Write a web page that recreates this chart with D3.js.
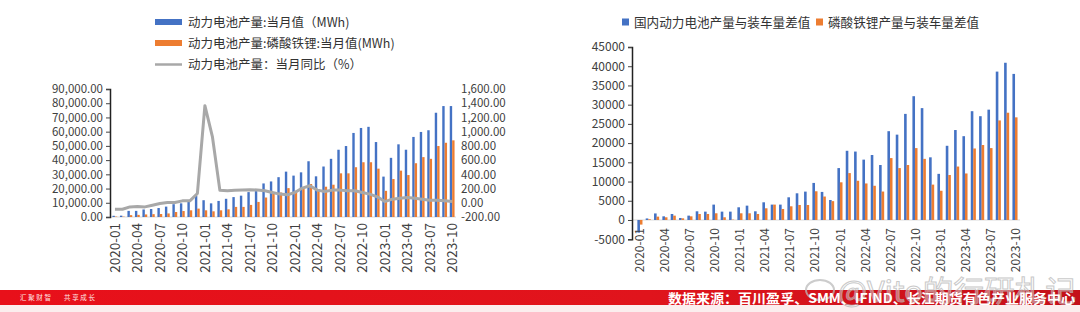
<!DOCTYPE html>
<html>
<head>
<meta charset="utf-8">
<script src="https://cdn.jsdelivr.net/npm/d3@7"></script>
<style>
body { margin: 0; background: #fff; }
svg { display: block; }
text { font-family: "Noto Sans CJK SC", "Noto Sans", sans-serif; }
</style>
</head>
<body>
<svg id="chart" width="1080" height="312"></svg>
<script>
var months = ["2020-01","2020-02","2020-03","2020-04","2020-05","2020-06","2020-07","2020-08","2020-09","2020-10","2020-11","2020-12",
	"2021-01","2021-02","2021-03","2021-04","2021-05","2021-06","2021-07","2021-08","2021-09","2021-10","2021-11","2021-12",
	"2022-01","2022-02","2022-03","2022-04","2022-05","2022-06","2022-07","2022-08","2022-09","2022-10","2022-11","2022-12",
	"2023-01","2023-02","2023-03","2023-04","2023-05","2023-06","2023-07","2023-08","2023-09","2023-10"];
var tickMonths = ["2020-01","2020-04","2020-07","2020-10","2021-01","2021-04","2021-07","2021-10",
	"2022-01","2022-04","2022-07","2022-10","2023-01","2023-04","2023-07","2023-10"];

// left chart: 动力电池产量 当月值 (MWh), 磷酸铁锂 当月值 (MWh), 当月同比 (%)
var output = [850, 950, 4300, 4300, 5300, 5600, 6300, 7300, 9000, 9600, 11500, 15000,
	11800, 9600, 11300, 12800, 14000, 15000, 17500, 18200, 23600, 25000, 28000, 31900,
	29100, 31400, 39200, 28600, 35500, 40900, 47300, 49900, 59100, 62600, 63400, 52700,
	28400, 41600, 51100, 47300, 56300, 59800, 61000, 73300, 78000, 78000];
var lfpOutput = [300, 250, 1300, 1500, 1800, 2000, 2100, 2500, 3500, 4200, 4700, 5900,
	4700, 4000, 4700, 5400, 7100, 7100, 8500, 10600, 13700, 16500, 17200, 20300,
	18400, 20300, 23200, 19600, 21300, 22700, 30700, 30700, 35000, 38500, 38500, 34000,
	18400, 26700, 32600, 29500, 37800, 42100, 40900, 49900, 52200, 53900];
var outputYoy = [-91, -91, -58, -53, -58, -34, -11, 3, 3, 27, 27, 131,
	1366, 931, 175, 169, 175, 180, 184, 180, 169, 145, 122, 112,
	145, 207, 240, 178, 159, 178, 178, 169, 169, 145, 122, 84,
	17, 51, 65, 74, 65, 51, 37, 37, 27, 17];

// right chart: 产量与装车量差值
var gapTotal = [-3300, 400, 1700, 950, 1560, 520, 1130, 2260, 2170, 4000, 2170, 2170,
	3300, 3730, 2260, 4600, 4000, 4000, 5900, 6940, 7380, 9640, 7300, 5200,
	13500, 18000, 17800, 15700, 16900, 14300, 23100, 22200, 27600, 32200, 29100, 16300,
	12000, 19300, 23400, 21800, 28300, 27000, 28700, 38600, 40900, 38000];
var gapLfp = [-1200, 200, 870, 700, 1130, 430, 950, 1560, 1560, 1740, 700, 100,
	1740, 1740, 1560, 3040, 4000, 2860, 3560, 3900, 3900, 7470, 6100, 4900,
	9800, 12200, 10200, 9500, 8900, 7400, 16100, 13500, 14300, 18700, 15900, 9200,
	7600, 11700, 13900, 12100, 18600, 19500, 18700, 25900, 27900, 26700];

var leftLegend = ["动力电池产量:当月值（MWh)", "动力电池产量:磷酸铁锂:当月值(MWh)", "动力电池产量：当月同比（%）"];
var rightLegend = ["国内动力电池产量与装车量差值", "磷酸铁锂产量与装车量差值"];

var BLUE = "#4472c4", ORANGE = "#ed7d31", GRAY = "#a8a8a8", TEXT = "#404040";
var fmt = d3.formatLocale({decimal: ".", thousands: ",", grouping: [3], currency: ["", ""], minus: "-"});

var svg = d3.select("#chart");

function leftChart() {
	var x = d3.scaleBand().domain(months).range([111.2, 456]),
		y = d3.scaleLinear().domain([0, 90000]).range([217, 89]),
		yr = d3.scaleLinear().domain([-200, 1600]).range([217, 89]),
		g = svg.append("g");

	var c = function(m) { return x(m) + x.bandwidth() / 2; };

	g.append("line").attr("x1", 110).attr("x2", 456).attr("y1", 217).attr("y2", 217)
		.style("stroke", "#d9d9d9");

	g.selectAll(".b1").data(output).enter().append("rect")
		.attr("x", function(d, i) { return c(months[i]) - 2.5; })
		.attr("width", 2.4)
		.attr("y", function(d) { return y(d); })
		.attr("height", function(d) { return y(0) - y(d); })
		.style("fill", BLUE);
	g.selectAll(".b2").data(lfpOutput).enter().append("rect")
		.attr("x", function(d, i) { return c(months[i]) - 0.1; })
		.attr("width", 2.4)
		.attr("y", function(d) { return y(d); })
		.attr("height", function(d) { return y(0) - y(d); })
		.style("fill", ORANGE);

	var line = d3.line()
		.x(function(d, i) { return c(months[i]); })
		.y(function(d) { return yr(d); });
	g.append("path").datum(outputYoy)
		.attr("d", line)
		.style("fill", "none").style("stroke", GRAY).style("stroke-width", 3)
		.style("stroke-linejoin", "round");

	var ax = g.append("g").attr("transform", "translate(110,0)")
		.call(d3.axisLeft(y).tickValues(d3.range(0, 90001, 10000)).tickFormat(fmt.format(",.2f")).tickSize(4).tickPadding(3));
	ax.select(".domain").style("stroke", "#222").style("stroke-width", 1.5);
	ax.selectAll(".tick line").style("stroke", "#444");
	ax.selectAll(".tick text").style("font-size", "11.5px").style("fill", TEXT);

	var ar = g.append("g").attr("transform", "translate(456,0)")
		.call(d3.axisRight(yr).tickValues(d3.range(-200, 1601, 200)).tickFormat(fmt.format(",.2f")).tickSize(0).tickPadding(5));
	ar.select(".domain").remove();
	ar.selectAll(".tick text").style("font-size", "11.5px").style("fill", TEXT);

	g.selectAll(".xl").data(tickMonths).enter().append("text")
		.attr("transform", function(d) { return "translate(" + (c(d) + 5) + ",223) rotate(-90)"; })
		.attr("text-anchor", "end")
		.style("font-size", "13.5px").style("fill", TEXT)
		.text(function(d) { return d; });

	var lg = g.append("g");
	lg.append("rect").attr("x", 155).attr("y", 19).attr("width", 27).attr("height", 6).style("fill", BLUE);
	lg.append("rect").attr("x", 155).attr("y", 40).attr("width", 27).attr("height", 6).style("fill", ORANGE);
	lg.append("line").attr("x1", 155).attr("x2", 182).attr("y1", 64.5).attr("y2", 64.5)
		.style("stroke", GRAY).style("stroke-width", 2.5);
	lg.selectAll(".lt").data(leftLegend).enter().append("text")
		.attr("x", 188)
		.attr("y", function(d, i) { return 27 + i * 21; })
		.style("font-size", "12.5px").style("fill", "#333")
		.text(function(d) { return d; });
}

function rightChart() {
	var x = d3.scaleBand().domain(months).range([635.8, 1019.2]),
		y = d3.scaleLinear().domain([-5000, 45000]).range([239.2, 47]),
		g = svg.append("g");

	var c = function(m) { return x(m) + x.bandwidth() / 2; };

	g.append("line").attr("x1", 632).attr("x2", 1020).attr("y1", y(0)).attr("y2", y(0))
		.style("stroke", "#d9d9d9");

	function bar(d) { return { y: Math.min(y(d), y(0)), h: Math.abs(y(d) - y(0)) }; }

	g.selectAll(".b1").data(gapTotal).enter().append("rect")
		.attr("x", function(d, i) { return c(months[i]) - 2.6; })
		.attr("width", 2.6)
		.attr("y", function(d) { return bar(d).y; })
		.attr("height", function(d) { return bar(d).h; })
		.style("fill", BLUE);
	g.selectAll(".b2").data(gapLfp).enter().append("rect")
		.attr("x", function(d, i) { return c(months[i]) - 0.1; })
		.attr("width", 2.6)
		.attr("y", function(d) { return bar(d).y; })
		.attr("height", function(d) { return bar(d).h; })
		.style("fill", ORANGE);

	var ax = g.append("g").attr("transform", "translate(632,0)")
		.call(d3.axisLeft(y).tickValues(d3.range(-5000, 45001, 5000)).tickFormat(fmt.format("d")).tickSize(4).tickPadding(3));
	ax.select(".domain").style("stroke", "#222").style("stroke-width", 1.5);
	ax.selectAll(".tick line").style("stroke", "#444");
	ax.selectAll(".tick text").style("font-size", "12px").style("fill", TEXT);

	g.selectAll(".xl").data(tickMonths).enter().append("text")
		.attr("transform", function(d) { return "translate(" + (c(d) + 4.5) + ",228) rotate(-90)"; })
		.attr("text-anchor", "end")
		.style("font-size", "12px").style("fill", TEXT)
		.text(function(d) { return d; });

	var colors = [BLUE, ORANGE], lx = [622, 816];
	rightLegend.forEach(function(t, i) {
		g.append("rect").attr("x", lx[i]).attr("y", 18.5).attr("width", 7).attr("height", 7).style("fill", colors[i]);
		g.append("text").attr("x", lx[i] + 12).attr("y", 27)
			.style("font-size", "12.6px").style("fill", "#333").text(t);
	});
}

function footer() {
	var defs = svg.append("defs");
	var grad = defs.append("linearGradient").attr("id", "band");
	grad.append("stop").attr("offset", "0%").attr("stop-color", "#e8101a");
	grad.append("stop").attr("offset", "60%").attr("stop-color", "#e0141c");
	grad.append("stop").attr("offset", "100%").attr("stop-color", "#c4101a");
	svg.append("rect").attr("x", 0).attr("y", 305).attr("width", 1080).attr("height", 7).style("fill", "#fbeeee");
	svg.append("rect").attr("x", 0).attr("y", 290).attr("width", 1080).attr("height", 15).style("fill", "url(#band)");
	svg.append("text").attr("x", 20).attr("y", 300)
		.attr("textLength", 75).attr("lengthAdjust", "spacing")
		.style("font-size", "6.5px").style("fill", "#ffe6e6")
		.text("汇 聚 财 智　　共 享 成 长");

	var wm = svg.append("g").style("opacity", 0.75);
	wm.append("ellipse").attr("cx", 820).attr("cy", 290).attr("rx", 14).attr("ry", 10)
		.style("fill", "none").style("stroke", "#bbb").style("stroke-width", 2);
	wm.append("text").attr("x", 838).attr("y", 302)
		.attr("textLength", 238).attr("lengthAdjust", "spacingAndGlyphs")
		.style("font-size", "29px").style("fill", "rgba(255,255,255,0.55)")
		.style("stroke", "#b8b8b8").style("stroke-width", 1)
		.text("@Vito的行研札记");

	svg.append("text").attr("x", 1075).attr("y", 302.5)
		.attr("text-anchor", "end")
		.attr("textLength", 407).attr("lengthAdjust", "spacingAndGlyphs")
		.style("font-size", "13px").style("font-weight", "bold").style("fill", "#fff")
		.text("数据来源：百川盈孚、SMM、IFIND、长江期货有色产业服务中心");
}

leftChart();
rightChart();
footer();
</script>
</body>
</html>
